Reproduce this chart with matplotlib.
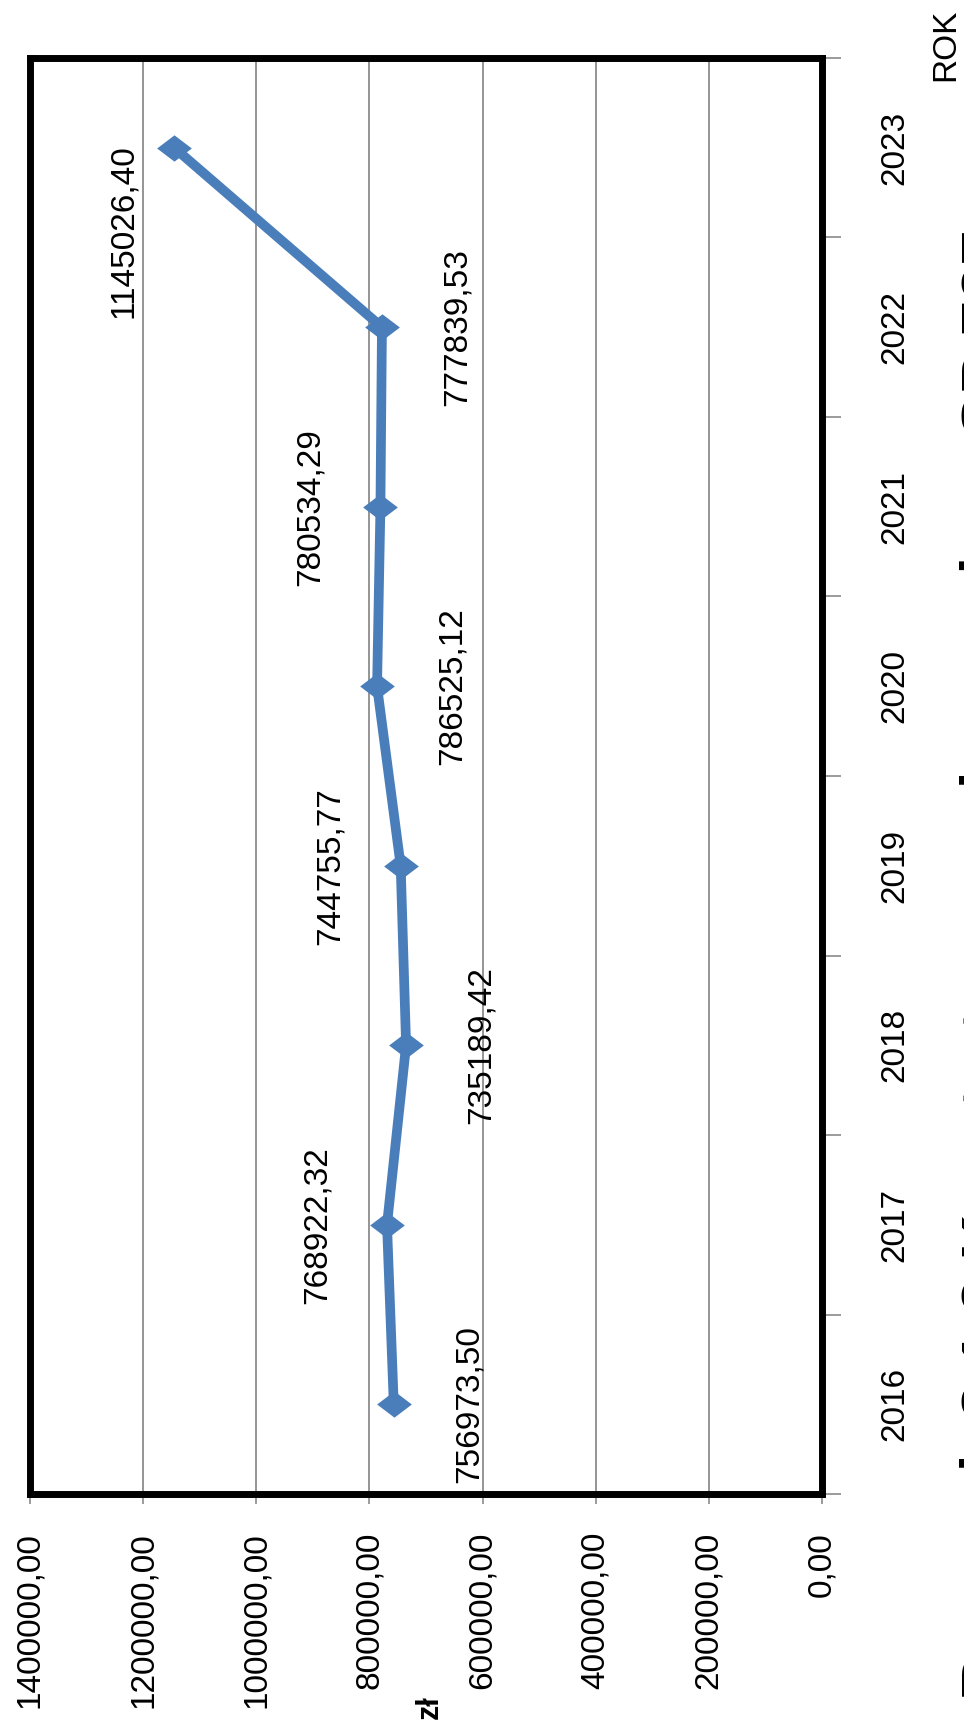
import matplotlib
matplotlib.use('Agg')
import matplotlib.pyplot as plt
from matplotlib import font_manager as fm

# ---------------- data ----------------
years = ['2016', '2017', '2018', '2019', '2020', '2021', '2022', '2023']
values = [756973.50, 768922.32, 735189.42, 744755.77, 786525.12, 780534.29, 777839.53, 1145026.40]
value_ticks = [0, 200000, 400000, 600000, 800000, 1000000, 1200000, 1400000]
label_side = ['below', 'above', 'below', 'above', 'below', 'above', 'below', 'above']
unit_label = 'zł'
category_label = 'ROK'
title_text = 'Rysunek 8.1.2 Koszt utrzymania ucznia w SP 727'


def fmt(v):
    return f"{v:.2f}".replace('.', ',')


def has_font(name):
    try:
        fm.findfont(fm.FontProperties(family=name), fallback_to_default=False)
        return True
    except Exception:
        return False


if has_font('Liberation Sans Narrow'):
    FONT = 'Liberation Sans Narrow'
    FS = 28.5
else:
    FONT = 'Liberation Sans'
    FS = 24

W, H, DPI = 964, 1727, 100
fig = plt.figure(figsize=(W / DPI, H / DPI), dpi=DPI)
fig.patch.set_facecolor('white')

L, R, T, B = 30, 822, 58, 1494
ax = fig.add_axes([L / W, 1 - B / H, (R - L) / W, (B - T) / H])
n = len(years)
pos = list(range(n))
ax.set_xlim(value_ticks[-1], value_ticks[0])
ax.set_ylim(-0.5, n - 0.5)

BLUE = '#4a7ebb'
diamond = [(-1, 0), (0, -0.76), (1, 0), (0, 0.76), (-1, 0)]
ax.plot(values, pos, color=BLUE, lw=7, marker=diamond, ms=25,
        mfc=BLUE, mec=BLUE, mew=0, zorder=3, clip_on=False,
        solid_joinstyle='round')

# value axis (horizontal in the rotated picture)
ax.set_xticks(value_ticks)
ax.set_xticklabels([fmt(v) for v in value_ticks], rotation=90,
                   fontsize=FS, family=FONT)
for lbl in ax.get_xticklabels():
    lbl.set_ha('center')
    lbl.set_va('top')
ax.tick_params(axis='x', direction='out', length=7.2, width=1.2,
               color='#8a8a8a', pad=20)
ax.xaxis.grid(True, color='#8c8c8c', lw=1.3)
ax.yaxis.grid(False)
ax.set_axisbelow(True)

# category axis (vertical, on the right)
ax.yaxis.tick_right()
ax.set_yticks([i - 0.5 for i in range(n + 1)])
ax.set_yticklabels([])
ax.set_yticks(pos, minor=True)
ax.set_yticklabels(years, minor=True, rotation=90, fontsize=FS, family=FONT)
for lbl in ax.get_yticklabels(minor=True):
    lbl.set_ha('left')
    lbl.set_va('center')
ax.tick_params(axis='y', which='major', direction='out', length=13.7,
               width=1.2, color='#8a8a8a', right=True, left=False,
               labelright=False, labelleft=False)
ax.tick_params(axis='y', which='minor', length=0, pad=41, right=True,
               left=False, labelright=True, labelleft=False)

for s in ax.spines.values():
    s.set_linewidth(5)
    s.set_color('black')

# data labels
for i, (v, side) in enumerate(zip(values, label_side)):
    dx = 75 if side == 'below' else -70
    dy = 0
    if i == n - 1:
        dx, dy = -51, -83
    ax.annotate(fmt(v), xy=(v, i), xytext=(dx, dy), textcoords='offset pixels',
                rotation=90, ha='center', va='center', fontsize=FS,
                family=FONT, zorder=4)

# axis names
fig.text(430 / W, 1 - 1707 / H, unit_label, rotation=90, ha='center',
         va='center', fontsize=22, weight='bold', family=FONT)
fig.text(946 / W, 1 - 45 / H, category_label, rotation=90, ha='center',
         va='center', fontsize=FS, family=FONT)

# caption, mostly cut off by the right edge (as in the scanned original)
t = fig.text(960 / W, 1 - 1700 / H, title_text, rotation=90, ha='left',
             va='bottom', fontsize=40, weight='bold', family='Liberation Sans')
r = fig.canvas.get_renderer()
h = t.get_window_extent(r).height
t.set_fontsize(40 * 1470 / h)

fig.savefig('out.png', dpi=DPI)
